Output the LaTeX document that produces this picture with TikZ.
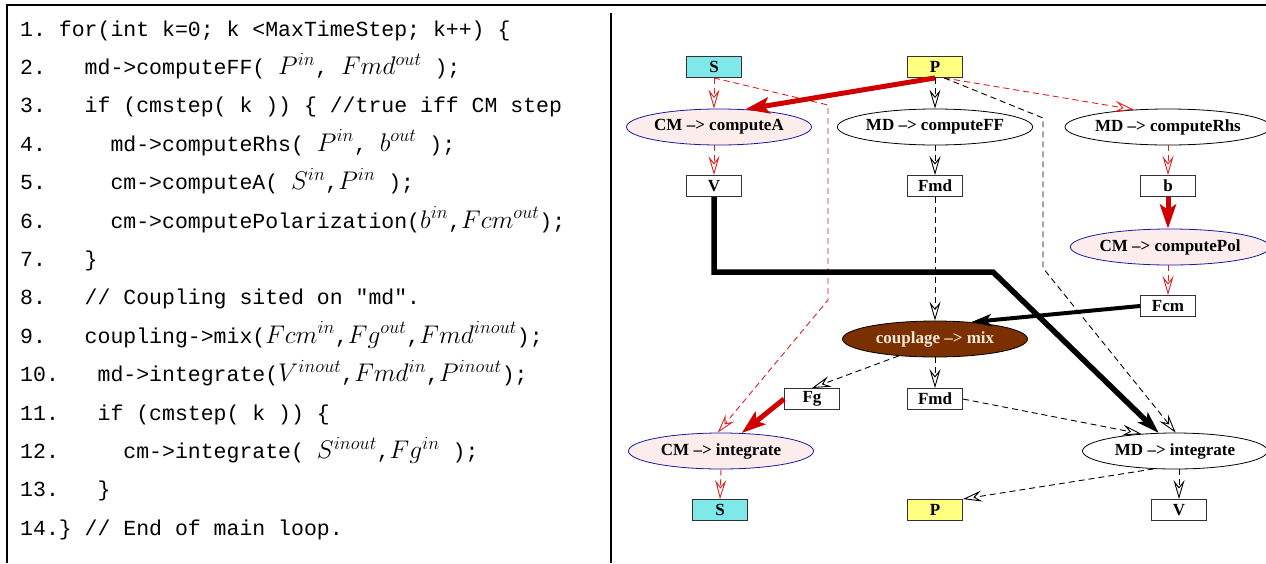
\RequirePackage{fix-cm}
\documentclass[tikz,border=0pt]{standalone}
\usepackage{fontspec}
\setmainfont{Liberation Serif}
\setmonofont{Liberation Mono}
\usetikzlibrary{arrows.meta,shapes.geometric}
\DeclareMathSizes{21.5}{25.5}{18.5}{13}
\definecolor{cyanbox}{HTML}{7FE8E8}
\definecolor{yellowbox}{HTML}{FFFF80}
\definecolor{pinkfill}{HTML}{FCEDEC}
\definecolor{navyline}{HTML}{1A1AA0}
\definecolor{brownfill}{HTML}{7A3000}
\definecolor{dashred}{HTML}{E02020}
\definecolor{thickred}{HTML}{D00000}
\frenchspacing
\begin{document}
\begin{tikzpicture}[x=1pt,y=-1pt,
  code/.style={anchor=base west, inner sep=0pt, font=\ttfamily\fontsize{21.5}{24}\selectfont},
  lbl/.style={font=\bfseries\fontsize{17}{19}\selectfont},
  box/.style={lbl, draw=black!80, line width=0.9pt, minimum width=55pt, minimum height=21pt, inner sep=0pt},
  ell/.style={lbl, ellipse, line width=0.8pt, minimum width=185pt, minimum height=36pt, inner sep=0pt},
  cmell/.style={ell, draw=navyline, fill=pinkfill},
  mdell/.style={ell, draw=black, fill=white},
  openhead/.style={-{Stealth[open, length=19pt, width=11pt, inset=7pt]}},
  reddash/.style={draw=dashred, line width=0.9pt, dash pattern=on 6pt off 4pt, openhead},
  blackdash/.style={draw=black, line width=0.9pt, dash pattern=on 6pt off 4pt, openhead},
  redthick/.style={draw=thickred, line width=5pt, -{Stealth[length=24pt, width=16pt, inset=5pt]}},
  blackthick/.style={draw=black, line width=5.5pt, -{Stealth[length=22pt, width=14pt, inset=5pt]}},
  blackmid/.style={draw=black, line width=4pt, -{Stealth[length=20pt, width=12pt, inset=5pt]}}
]
\useasboundingbox (0,0) rectangle (1266,563);
% frame
\draw[line width=2.4pt] (7,563) -- (7,5) -- (1266,5);
\draw[line width=2.2pt] (611,13) -- (611,563);

% code
\node[code] (c1)  at (20,36)  {1.~for(int k=0; k <MaxTimeStep; k++) \{};
\node[code] (c2)  at (20,74.4)  {2.~~~md->computeFF( $P^{in}$, $Fmd^{out}$ );};
\node[code] (c3)  at (20,112.8) {3.~~~if (cmstep( k )) \{ //true iff CM step};
\node[code] (c4)  at (20,151.2) {4.~~~~~md->computeRhs( $P^{in}$, $b^{out}$ );};
\node[code] (c5)  at (20,189.6) {5.~~~~~cm->computeA( $S^{in}$,$P^{in}$ );};
\node[code] (c6)  at (20,228)   {6.~~~~~cm->computePolarization($b^{in}$,$Fcm^{out}$);};
\node[code] (c7)  at (20,266.4) {7.~~~\}};
\node[code] (c8)  at (20,304.8) {8.~~~// Coupling sited on "md".};
\node[code] (c9)  at (20,343.2) {9.~~~coupling->mix($Fcm^{in}$,$Fg^{out}$,$Fmd^{inout}$);};
\node[code] (c10) at (20,381.6) {10.~~~md->integrate($V^{inout}$,$Fmd^{in}$,$P^{inout}$);};
\node[code] (c11) at (20,420)   {11.~~~if (cmstep( k )) \{};
\node[code] (c12) at (20,458.4) {12.~~~~~cm->integrate( $S^{inout}$,$Fg^{in}$ );};
\node[code] (c13) at (20,496.8) {13.~~~\}};
\node[code] (c14) at (20,535.2) {14.\} // End of main loop.};

% diagram nodes
\node[box, fill=cyanbox] (S1) at (714,67) {S};
\node[box, fill=yellowbox] (P1) at (935,67) {P};
\node[cmell] (cA) at (719,127) {CM \textendash> computeA};
\node[mdell] (cF) at (935,127) {MD \textendash> computeFF};
\node[mdell] (cR) at (1168,127) {MD \textendash> computeRhs};
\node[box, fill=white] (V1) at (714,186) {V};
\node[box, fill=white] (F1) at (935,186) {Fmd};
\node[box, fill=white] (B1) at (1168,186) {b};
\node[cmell] (cP) at (1170,247) {CM \textendash> computePol};
\node[box, fill=white] (Fc) at (1168,306) {Fcm};
\node[ell, draw=black, fill=brownfill, text={rgb,255:red,245;green,232;blue,218}] (cM) at (935,339) {couplage \textendash> mix};
\node[box, fill=white] (Fg) at (812,399) {Fg};
\node[box, fill=white] (F2) at (935,399) {Fmd};
\node[cmell] (cI) at (721,451) {CM \textendash> integrate};
\node[mdell] (mI) at (1175,451) {MD \textendash> integrate};
\node[box, fill=cyanbox] (S2) at (720,510) {S};
\node[box, fill=yellowbox] (P2) at (935,510) {P};
\node[box, fill=white] (V2) at (1179,510) {V};

% bend points
\coordinate (sb1) at (828,105);
\coordinate (sb2) at (828,300);
\coordinate (pb1) at (1043,118);
\coordinate (pb2) at (1043,268);
\coordinate (vb1) at (714,272);
\coordinate (vb2) at (993,272);

% connectors
\draw[reddash] (S1.south) -- (S1.south |- cA.north);
\draw[reddash] (S1.south) -- (sb1) -- (sb2) -- (cI.100);
\draw[blackdash] (P1.south) -- (cF.north);
\draw[reddash] (P1.-50) -- (cR.153);
\draw[blackdash] (P1.-50) -- (pb1) -- (pb2) -- (mI.88);
\draw[redthick] (P1.south) -- (cA.34);
\draw[reddash] (V1.north |- cA.south) -- (V1.north);
\draw[blackdash] (cF.south) -- (F1.north);
\draw[reddash] (cR.south) -- (B1.north);
\draw[redthick] (B1.south) -- (B1.south |- cP.north);
\draw[reddash] (Fc.north |- cP.south) -- (Fc.north);
\draw[blackdash] (F1.south) -- (cM.north);
\draw[blackthick] (V1.south) -- (vb1) -- (vb2) -- (mI.132);
\draw[blackmid] (Fc.west) -- (cM.25);
\draw[blackdash] (cM.-155) -- (Fg.north);
\draw[blackdash] (cM.south) -- (F2.north);
\draw[redthick] (Fg.west) -- (cI.41);
\draw[blackdash] (F2.east) -- (mI.153);
\draw[reddash] (cI.south) -- (S2.north);
\draw[blackdash] (mI.-140) -- (P2.north east);
\draw[blackdash] (V2.north |- mI.south) -- (V2.north);
\end{tikzpicture}
\end{document}
